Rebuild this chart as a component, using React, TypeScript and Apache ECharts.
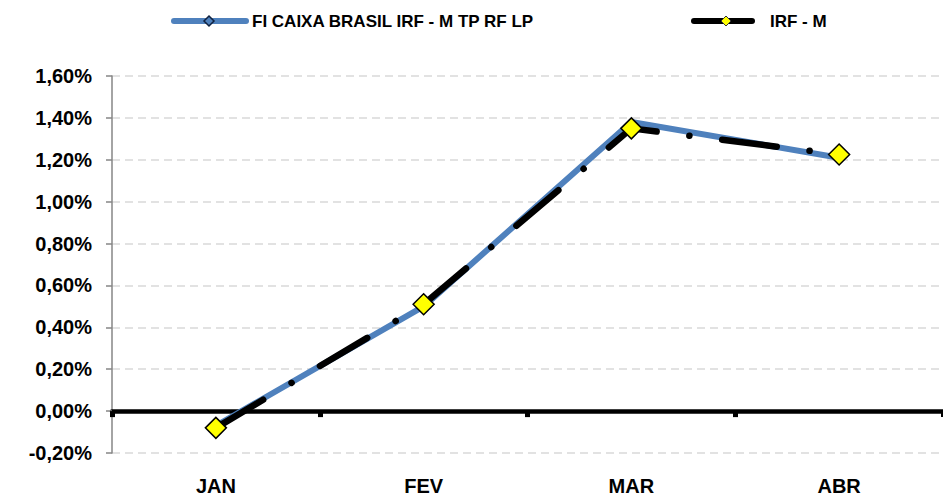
import React, { useEffect, useRef } from "react";
import * as echarts from "echarts";

const categories = ["JAN", "FEV", "MAR", "ABR"];
const fundName = "FI CAIXA BRASIL IRF - M TP RF LP";
const indexName = "IRF - M";
const fundValues = [-0.07, 0.5, 1.38, 1.21];
const indexValues = [-0.08, 0.51, 1.35, 1.225];
const yMin = -0.2;
const yMax = 1.6;
const yStep = 0.2;

const BLUE = "#4F81BD";
const FONT = "'Liberation Sans', Arial, sans-serif";

export default function App() {
  const ref = useRef<HTMLDivElement>(null);
  useEffect(() => {
    if (!ref.current) return;
    const chart = echarts.init(ref.current, null, { renderer: "svg" });
    const legendY = 21;
    chart.setOption({
      animation: false,
      backgroundColor: "#ffffff",
      grid: { left: 112, width: 835, top: 76, bottom: 48, containLabel: false },
      xAxis: [
        {
          type: "category",
          data: categories,
          position: "bottom",
          axisLine: { show: false, onZero: false },
          axisTick: { show: false },
          splitLine: { show: false },
          axisLabel: {
            margin: 23,
            color: "#000",
            fontFamily: FONT,
            fontWeight: "bold",
            fontSize: 20,
          },
        },
        {
          type: "category",
          data: categories,
          position: "bottom",
          axisLine: { show: true, onZero: true, lineStyle: { color: "#000", width: 4.5 } },
          axisTick: { show: true, length: 6, lineStyle: { color: "#000", width: 5 } },
          axisLabel: { show: false },
          splitLine: { show: false },
        },
      ],
      yAxis: {
        type: "value",
        min: yMin,
        max: yMax,
        interval: yStep,
        axisLine: { show: true, lineStyle: { color: "#868686", width: 1.5 } },
        axisTick: { show: true, length: 6, lineStyle: { color: "#868686", width: 1.5 } },
        splitLine: { show: true, lineStyle: { color: "#D9D9D9", width: 1.5, type: [8, 5] } },
        axisLabel: {
          margin: 20,
          color: "#000",
          fontFamily: FONT,
          fontWeight: "bold",
          fontSize: 20,
          formatter: (v: number) => v.toFixed(2).replace(".", ",") + "%",
        },
      },
      graphic: [
        {
          type: "line",
          shape: { x1: 174, y1: legendY, x2: 246, y2: legendY },
          style: { stroke: BLUE, lineWidth: 6, lineCap: "round" },
        },
        {
          type: "polygon",
          shape: { points: [[209, legendY - 5], [214, legendY], [209, legendY + 5], [204, legendY]] },
          style: { fill: BLUE, stroke: "#10213F", lineWidth: 1.5 },
        },
        {
          type: "text",
          x: 252,
          y: legendY,
          style: {
            text: fundName,
            fill: "#000",
            font: `bold 17px ${FONT}`,
            verticalAlign: "middle",
            align: "left",
          },
        },
        {
          type: "line",
          shape: { x1: 694, y1: legendY, x2: 752, y2: legendY },
          style: { stroke: "#000", lineWidth: 6, lineCap: "round" },
        },
        {
          type: "polygon",
          shape: { points: [[726, legendY - 5], [731, legendY], [726, legendY + 5], [721, legendY]] },
          style: { fill: "#FFFF00", stroke: "#333", lineWidth: 1 },
        },
        {
          type: "text",
          x: 770,
          y: legendY,
          style: {
            text: indexName,
            fill: "#000",
            font: `bold 17px ${FONT}`,
            verticalAlign: "middle",
            align: "left",
          },
        },
      ],
      series: [
        {
          name: fundName,
          type: "line",
          xAxisIndex: 0,
          data: fundValues,
          showSymbol: false,
          symbol: "none",
          lineStyle: { color: BLUE, width: 6, cap: "round", join: "round" },
          z: 2,
        },
        {
          name: indexName,
          type: "line",
          xAxisIndex: 0,
          data: indexValues,
          symbol: "diamond",
          symbolSize: 21,
          itemStyle: { color: "#FFFF00", borderColor: "#000", borderWidth: 1.5 },
          lineStyle: {
            color: "#000",
            width: 6.5,
            type: [55, 33, 0.1, 33],
            cap: "round",
            join: "round",
          },
          z: 3,
        },
      ],
    });
    return () => chart.dispose();
  }, []);
  return (
    <div
      ref={ref}
      style={{ position: "fixed", left: 0, top: 0, width: 943, height: 501, background: "#fff" }}
    />
  );
}
